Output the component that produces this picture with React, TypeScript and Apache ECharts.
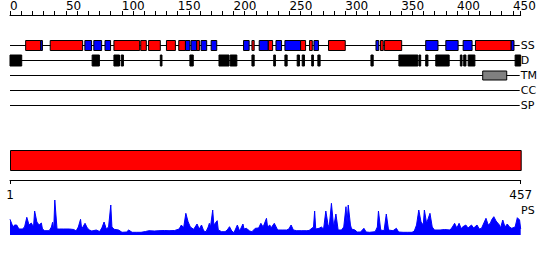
import React, { useEffect, useRef } from "react";
import * as echarts from "echarts";

const SEQ_LEN = 457;
const rowLabels = ["SS", "D", "TM", "CC", "SP"];
const endLabels = [1, 457];

// Secondary structure: helix (red) and strand (blue) segments [start, end]
const helixSegments: [number, number][] = [
  [14, 27.5], [36, 65], [93, 116], [117, 122], [124, 134.5], [140, 148], [151, 157],
  [167, 169.5], [216.5, 218.5], [231, 235], [260, 264.5], [268, 270.5], [285, 300],
  [331.5, 334], [335, 350.5], [416.5, 448.5],
];
const strandSegments: [number, number][] = [
  [27.5, 29], [67, 73], [75, 82], [85, 90], [157, 161], [162, 167], [171, 176], [180, 185],
  [209, 214], [223, 231], [238, 243], [246, 260], [272, 276], [327.5, 330], [372, 383],
  [390, 401], [405.5, 413.5], [448.5, 451],
];
// Disorder segments
const disorderSegments: [number, number][] = [
  [0, 10.5], [73.5, 80], [93, 98], [99.5, 101.5], [134.5, 136], [161, 164], [187, 196],
  [197, 203], [216.5, 218.5], [236, 237.5], [246, 248], [257, 259], [261.5, 263.5],
  [270, 271.5], [275.5, 277.5], [323, 325], [348, 365], [366, 367.5], [372, 374],
  [381, 393], [403, 404.5], [406, 408], [410, 416], [452, 457],
];
// Transmembrane
const tmSegments: [number, number][] = [[423, 444.5]];
// Domain bar
const domainSegments: [number, number][] = [[1, 457]];

// PS profile [residue, score]
const psProfile: [number, number][] = [
  [1, 15.7], [3, 10], [4, 8], [5, 10], [7, 10], [9, 6], [12, 6], [14, 8], [16, 17.7], [18, 10],
  [20, 12], [22, 8], [23, 24], [25, 13], [27, 10], [29, 12], [30, 6], [32, 4.3], [36, 4.3],
  [38, 8], [39, 12.7], [40, 5], [41, 35], [43, 6], [45, 6], [49, 6], [54, 6], [58, 5.5],
  [60, 4], [62, 8], [64, 15.7], [65, 6], [68, 11.7], [70, 7], [72, 5], [74, 4], [78, 5],
  [81, 3.5], [83, 7], [85, 13], [87, 6], [89, 8], [91, 30], [92, 8], [94, 5.7], [98, 5],
  [101, 2.7], [105, 3], [107, 5], [110, 2.7], [114, 2.7], [118, 2.7], [122, 3.5], [125, 4.3],
  [130, 4], [134, 4.3], [139, 4.5], [143, 4.3], [148, 4.5], [152, 6], [154, 10], [156, 7],
  [158, 21.7], [160, 13.3], [162, 8], [165, 5.7], [168, 11], [170, 6], [172, 10], [174, 4],
  [176, 3.3], [178, 8], [179, 11.7], [180, 8], [182, 25], [183, 10], [186, 14.3], [187, 5],
  [190, 3.3], [193, 3.3], [195, 5], [197, 8.3], [199, 4], [201, 2.3], [204, 10], [206, 4],
  [209, 11], [210, 6], [212, 6.7], [215, 4], [217, 3.3], [220, 6.7], [223, 7], [225, 11.7],
  [227, 8], [230, 16.7], [231, 8], [233, 10], [234, 7], [237, 11.7], [240, 5], [244, 5],
  [248, 5], [250, 6], [252, 10], [254, 5], [257, 4.3], [261, 4.3], [266, 4.3], [268, 4.5],
  [272, 8], [273, 24], [274, 6], [277, 6.7], [279, 8], [281, 6], [283, 24], [285, 10],
  [286, 8], [288, 31.7], [290, 8], [292, 21], [294, 5], [297, 5], [299, 8], [301, 28.3],
  [302, 12], [303, 30], [305, 10], [306, 6], [309, 5], [311, 3], [314, 3], [317, 6.7],
  [319, 3], [322, 2.7], [327, 3.3], [329, 8], [330, 24], [332, 5], [335, 4.3], [337, 21],
  [339, 5], [343, 4.3], [346, 6.7], [348, 3], [352, 2.7], [356, 2.7], [360, 2.7], [362, 4],
  [364, 10], [366, 25], [368, 13], [370, 10], [371, 25], [373, 11.7], [376, 21.7], [378, 8],
  [380, 5], [385, 5], [389, 5.5], [394, 5], [396, 8], [398, 11.7], [400, 7], [402, 11.7],
  [404, 6], [405, 8], [408, 10], [410, 7], [413, 10], [415, 7], [418, 10], [420, 6],
  [422, 6.7], [426, 16.7], [428, 10], [430, 12], [431, 15], [433, 18.3], [435, 14], [438, 10],
  [439, 7], [441, 15], [443, 8], [445, 11], [447, 8], [449, 6.7], [452, 8], [454, 17.3],
  [456, 15], [457, 6],
];

const FONT = "DejaVu Sans";

function boxSeries(segs: [number, number][], row: number, fill: string, h: number, z: number) {
  return {
    type: "custom",
    xAxisIndex: 0,
    yAxisIndex: 0,
    z,
    data: segs.map(([s, e]) => [s, e, row]),
    encode: { x: [0, 1], y: 2 },
    renderItem: (_p: any, api: any) => {
      const p1 = api.coord([api.value(0), api.value(2)]);
      const p2 = api.coord([api.value(1), api.value(2)]);
      return {
        type: "rect",
        shape: { x: p1[0], y: Math.round(p1[1]) + 0.5 - h / 2, width: p2[0] - p1[0], height: h },
        style: { fill, stroke: "#000", lineWidth: 1 },
      };
    },
  };
}

export default function App() {
  const ref = useRef<HTMLDivElement>(null);
  useEffect(() => {
    if (!ref.current) return;
    const chart = echarts.init(ref.current, null, { renderer: "svg" });
    const option: any = {
      animation: false,
      backgroundColor: "#fff",
      grid: [
        { left: 10, top: 15, width: 510.7, height: 105 },
        { left: 10, top: 150, width: 510.7, height: 20 },
        { left: 10, top: 195, width: 510.7, height: 40 },
      ],
      xAxis: [
        {
          gridIndex: 0, type: "value", position: "top", min: 0, max: SEQ_LEN, interval: 10,
          axisLine: { show: true, onZero: false, lineStyle: { color: "#000", width: 1 } },
          axisTick: { show: true, length: 4, inside: false, lineStyle: { color: "#000" } },
          axisLabel: {
            show: true, align: "left", margin: 3, fontSize: 12, fontFamily: FONT, color: "#000",
            formatter: (v: number) => (v % 50 === 0 ? String(v) : ""),
          },
          splitLine: { show: false },
        },
        {
          gridIndex: 1, type: "value", position: "bottom", offset: 10, min: 1, max: SEQ_LEN,
          axisLine: { show: true, onZero: false, lineStyle: { color: "#000", width: 1 } },
          axisTick: { show: true, length: 4, inside: false, customValues: endLabels, lineStyle: { color: "#000" } },
          axisLabel: { show: true, customValues: endLabels, margin: 9, fontSize: 12, fontFamily: FONT, color: "#000" },
          splitLine: { show: false },
        },
        { gridIndex: 2, type: "value", min: 1, max: SEQ_LEN, show: false },
      ],
      yAxis: [
        { gridIndex: 0, type: "value", min: 0, max: 7, inverse: true, show: false },
        { gridIndex: 1, type: "value", min: 0, max: 1, show: false },
        { gridIndex: 2, type: "value", min: 0, max: 40, show: false },
      ],
      series: [
        {
          type: "custom", xAxisIndex: 0, yAxisIndex: 0, z: 1,
          data: rowLabels.map((lab, i) => [0, SEQ_LEN, i + 2, lab]),
          encode: { x: [0, 1], y: 2 },
          renderItem: (params: any, api: any) => {
            const p1 = api.coord([api.value(0), api.value(2)]);
            const p2 = api.coord([api.value(1), api.value(2)]);
            const y = Math.round(p1[1]) + 0.5;
            return {
              type: "group",
              children: [
                { type: "line", shape: { x1: p1[0], y1: y, x2: p2[0] - 1, y2: y }, style: { stroke: "#000", lineWidth: 1 } },
                {
                  type: "text", x: p2[0], y,
                  style: { text: rowLabels[params.dataIndex], fill: "#000", font: `11px "${FONT}"`, verticalAlign: "middle", align: "left" },
                },
              ],
            };
          },
        },
        boxSeries(helixSegments, 2, "#ff0000", 10, 2),
        boxSeries(strandSegments, 2, "#0000ff", 10, 2),
        boxSeries(disorderSegments, 3, "#000000", 11, 2),
        boxSeries(tmSegments, 4, "#808080", 9, 2),
        {
          type: "custom", xAxisIndex: 1, yAxisIndex: 1,
          data: domainSegments.map(([s, e]) => [s, e]),
          encode: { x: [0, 1] },
          renderItem: (_p: any, api: any) => {
            const p1 = api.coord([api.value(0), 1]);
            const p2 = api.coord([api.value(1), 0]);
            return {
              type: "rect",
              shape: { x: p1[0] + 0.5, y: p1[1] + 0.5, width: p2[0] - p1[0], height: p2[1] - p1[1] },
              style: { fill: "#ff0000", stroke: "#000", lineWidth: 1 },
            };
          },
        },
        {
          type: "line", xAxisIndex: 2, yAxisIndex: 2,
          data: psProfile,
          showSymbol: false, symbol: "none",
          lineStyle: { color: "#0000ff", width: 1 },
          areaStyle: { color: "#0000ff", opacity: 1 },
          itemStyle: { color: "#0000ff" },
        },
      ],
      graphic: [
        { type: "text", left: 521, top: 205, style: { text: "PS", fill: "#000", font: `11px "${FONT}"` } },
      ],
    };
    chart.setOption(option);
    return () => chart.dispose();
  }, []);
  return (
    <div
      ref={ref}
      style={{ position: "fixed", left: 0, top: 0, width: 550, height: 260, background: "#fff" }}
    />
  );
}
